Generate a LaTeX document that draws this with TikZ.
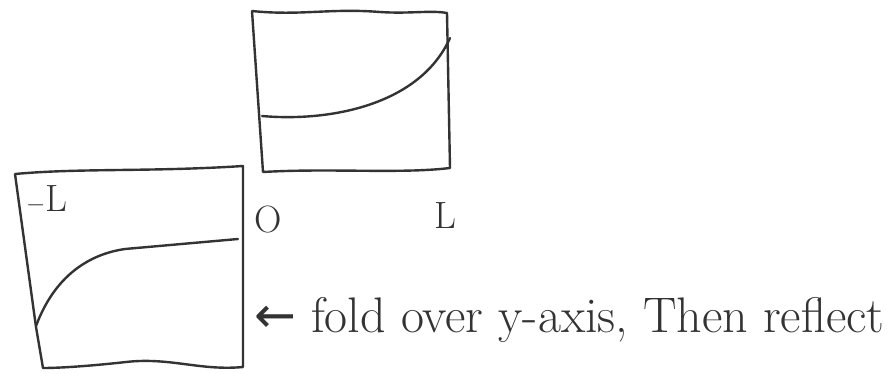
\documentclass[tikz,border=0pt]{standalone}
\usepackage{fontspec}
\newfontfamily\symfont{DejaVu Sans}
\begin{document}
\begin{tikzpicture}[x=1pt,y=-1pt,
  ink/.style={line width=2.4pt,draw=black!80,line join=round,line cap=round},
  lbl/.style={inner sep=0pt,font=\fontsize{38}{40}\selectfont,text=black!80}]
\useasboundingbox (0,0) rectangle (887,373);
% top box
\draw[ink] (252,11) .. controls (300,16) and (330,8) .. (380,12)
  .. controls (410,14) and (430,10) .. (447,13) -- (450,168)
  .. controls (400,174) and (330,168) .. (263,172) -- (252,11);
\draw[ink] (262,116) .. controls (330,122) and (420,105) .. (450,38);
% bottom box
\draw[ink] (15,174) .. controls (80,168) and (150,172) .. (243,166) -- (243,367)
  .. controls (200,371) and (170,357) .. (126,362) .. controls (90,366) and (60,368) .. (43,368)
  -- (36,327) -- (15,174);
\draw[ink] (36,326) .. controls (55,275) and (90,254) .. (125,249) -- (238,239);
% labels
\node[lbl,anchor=base west] (mL) at (26,211) {$-$L};
\node[lbl,anchor=base west] (zero) at (254,232) {O};
\node[lbl,anchor=base west] (pL) at (434,228) {L};
\node[inner sep=0pt,anchor=base west,font=\fontsize{50}{52}\selectfont,text=black!80] (txt) at (254,332)
  {{\symfont ←} fold over y-axis, Then reflect};
\end{tikzpicture}
\end{document}
